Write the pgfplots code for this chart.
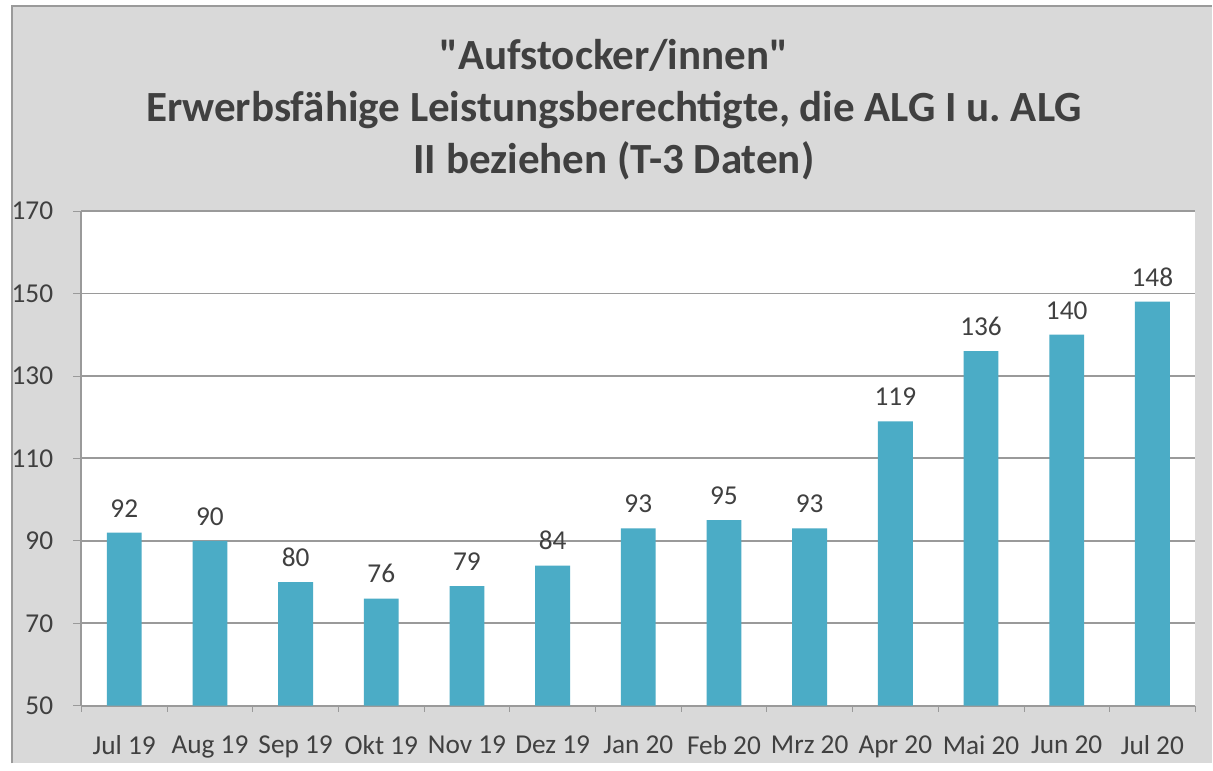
\documentclass[border=0pt]{standalone}
\usepackage{fontspec}
\setmainfont{Carlito}[Ligatures=TeXOff]
\usepackage{pgfplots}
\pgfplotsset{compat=1.18}
\definecolor{bg}{HTML}{D9D9D9}
\definecolor{barc}{HTML}{4BACC6}
\definecolor{txt}{HTML}{404040}
\definecolor{ln}{HTML}{9A9A9A}
\begin{document}
\begin{tikzpicture}
% outer frame (picture is 12.13cm x 7.67cm, 1px = 0.01cm)
\fill[white] (0,0) rectangle (12.13cm,7.67cm);
\fill[bg] (0.07cm,0) rectangle (12.13cm,7.61cm);
\draw[ln, line width=0.5pt] (0.07cm,0) -- (0.07cm,7.61cm) -- (12.13cm,7.61cm);
\node[align=center, text=txt, font=\fontsize{12.3}{14.8}\selectfont\bfseries]
  at (6.12cm,6.57cm)
  {"Aufstocker/innen"\\Erwerbsfähige Leistungsberechtigte, die ALG I u.\ ALG\\II beziehen (T-3 Daten)};
\begin{axis}[
    at={(0.77cm,0.58cm)}, anchor=south west,
    scale only axis, width=11.19cm, height=4.97cm,
    axis background/.style={fill=white},
    ymin=50, ymax=170, ytick={50,70,...,170},
    xmin=-0.5, xmax=12.5,
    xtick={0,...,12},
    xticklabels={Jul 19,Aug 19,Sep 19,Okt 19,Nov 19,Dez 19,Jan 20,Feb 20,Mrz 20,Apr 20,Mai 20,Jun 20,Jul 20},
    minor xtick={-0.5,0.5,...,12.5},
    major x tick style={draw=none},
    minor x tick style={ln},
    ytick style={ln},
    tick align=outside,
    major tick length=0.08cm, minor tick length=0.06cm,
    axis x line*=bottom, axis y line*=left,
    axis line style={ln, line width=0.6pt},
    ymajorgrids, grid style={ln, line width=0.5pt},
    /pgf/number format/assume math mode=true,
    tick label style={font=\fontsize{7.8}{9}\selectfont, text=txt},
    yticklabel style={xshift=-0.08cm},
    xticklabel style={yshift=-0.10cm},
    ybar, bar width=0.35cm,
    nodes near coords,
    every node near coord/.append style={font=\fontsize{7.8}{9}\selectfont, text=txt, yshift=0.03cm},
  ]
  \addplot[fill=barc, draw=none] coordinates {
    (0,92) (1,90) (2,80) (3,76) (4,79) (5,84) (6,93)
    (7,95) (8,93) (9,119) (10,136) (11,140) (12,148)
  };
\end{axis}
\end{tikzpicture}
\end{document}
